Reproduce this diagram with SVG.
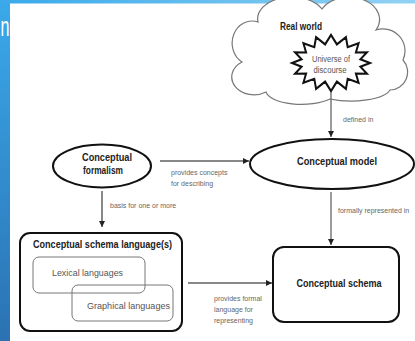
<svg xmlns="http://www.w3.org/2000/svg" width="415" height="341" viewBox="0 0 415 341">
<defs>
<linearGradient id="gl" x1="0" y1="0" x2="0" y2="1"><stop offset="0" stop-color="#3aa9ea"/><stop offset="1" stop-color="#2b72b2"/></linearGradient>
<linearGradient id="gt" x1="0" y1="0" x2="1" y2="0"><stop offset="0" stop-color="#3aa9ea"/><stop offset="1" stop-color="#92d2f3"/></linearGradient>
<marker id="ah" viewBox="0 0 10 10" refX="10" refY="5" markerWidth="6" markerHeight="6" markerUnits="userSpaceOnUse" orient="auto"><path d="M0,0 L10,5 L0,10 z" fill="#222"/></marker>
</defs>
<style>
.t{font-family:"Liberation Sans",Arial,sans-serif;}
.b{font-weight:bold;fill:#222;font-size:10px;}
.s{fill:#666;font-size:7px;}
.g{fill:#555;font-size:9px;}
.c{stroke:#888;stroke-width:2;fill:none;marker-end:url(#ah);}
.v{stroke:#666;stroke-width:1.3;fill:none;marker-end:url(#ah);}
</style>
<rect x="0" y="0" width="415" height="341" fill="#fff"/>
<rect x="0" y="0" width="10" height="341" fill="url(#gl)"/>
<rect x="0" y="0" width="415" height="3.5" fill="url(#gt)"/>
<text class="t" x="0.5" y="36" font-size="27" fill="#fff" textLength="9" lengthAdjust="spacingAndGlyphs">n</text>

<g id="real-world">
<path d="M242,62 A20,22 0 0 1 258,22 A34,22 0 0 1 322,9 A30,22 0 0 1 376,30 A22,22 0 0 1 403,60 A18,18 0 0 1 390,90 A40,14 0 0 1 330,99 A36,14 0 0 1 266,92 A20,16 0 0 1 242,62 Z" fill="#fff" stroke="#777" stroke-width="1.2"/>
<text class="t b" x="301" y="30" text-anchor="middle" textLength="42" lengthAdjust="spacingAndGlyphs">Real world</text>
</g>
<g id="universe">
<polygon transform="translate(3,0)" fill="#fff" stroke="#111" stroke-width="2" stroke-linejoin="miter" points="367,63 357.4,66.7 364,73.7 352.9,73.6 355.6,82.8 344.7,78.8 342.9,88.9 333.9,81.6 328,91 322.1,81.6 313.1,88.9 311.3,78.8 300.4,82.8 303.1,73.6 292,73.7 298.6,66.7 289,63 298.6,59.3 292,52.3 303.1,52.4 300.4,43.2 311.3,47.2 313.1,37.1 322.1,44.4 328,35 333.9,44.4 342.9,37.1 344.7,47.2 355.6,43.2 352.9,52.4 364,52.3 357.4,59.3"/>
<text class="t" x="331" y="62" font-size="8.5" fill="#555" text-anchor="middle" textLength="38" lengthAdjust="spacingAndGlyphs">Universe of</text>
<text class="t" x="330" y="73" font-size="8.5" fill="#555" text-anchor="middle" textLength="33" lengthAdjust="spacingAndGlyphs">discourse</text>
</g>

<g id="conceptual-model">
<ellipse cx="332" cy="164" rx="82" ry="25" fill="#fff" stroke="#111" stroke-width="2"/>
<text class="t b" x="337" y="165" text-anchor="middle" textLength="80" lengthAdjust="spacingAndGlyphs">Conceptual model</text>
</g>

<g id="conceptual-formalism">
<ellipse cx="102" cy="166" rx="49" ry="21.5" fill="#fff" stroke="#111" stroke-width="2"/>
<text class="t b" x="107" y="161" text-anchor="middle" textLength="50" lengthAdjust="spacingAndGlyphs">Conceptual</text>
<text class="t b" x="103" y="174" text-anchor="middle" textLength="40" lengthAdjust="spacingAndGlyphs">formalism</text>
</g>

<g id="schema-languages">
<rect x="20" y="233" width="162" height="98" rx="10" fill="#fff" stroke="#111" stroke-width="2"/>
<text class="t b" x="33" y="248" font-size="9.5" textLength="139" lengthAdjust="spacingAndGlyphs">Conceptual schema language(s)</text>
</g>
<g id="lexical-languages">
<rect x="33" y="257" width="112" height="36" rx="6" fill="none" stroke="#777" stroke-width="1"/>
<text class="t g" x="52" y="276" textLength="71" lengthAdjust="spacingAndGlyphs">Lexical languages</text>
</g>
<g id="graphical-languages">
<rect x="72" y="285" width="101" height="36" rx="6" fill="none" stroke="#777" stroke-width="1"/>
<text class="t g" x="87" y="309" textLength="83" lengthAdjust="spacingAndGlyphs">Graphical languages</text>
</g>

<g id="conceptual-schema">
<rect x="273" y="247" width="126" height="75" rx="11" fill="#fff" stroke="#111" stroke-width="2"/>
<text class="t b" x="339" y="287" text-anchor="middle" textLength="85" lengthAdjust="spacingAndGlyphs">Conceptual schema</text>
</g>

<g id="connectors">
<line class="v" x1="331" y1="92" x2="331" y2="137"/>
<text class="t s" x="343" y="122">defined in</text>
<line class="c" x1="160" y1="161" x2="249" y2="161"/>
<text class="t s" x="171" y="175">provides concepts</text>
<text class="t s" x="171" y="186">for describing</text>
<line class="c" x1="102" y1="191" x2="102" y2="227"/>
<text class="t s" x="110" y="208">basis for one or more</text>
<line class="v" x1="331" y1="192" x2="331" y2="245"/>
<text class="t s" x="338" y="213">formally represented in</text>
<line class="c" x1="188" y1="283" x2="272" y2="283"/>
<text class="t s" x="214" y="301">provides formal</text>
<text class="t s" x="214" y="312">language for</text>
<text class="t s" x="214" y="323">representing</text>
</g>
</svg>
